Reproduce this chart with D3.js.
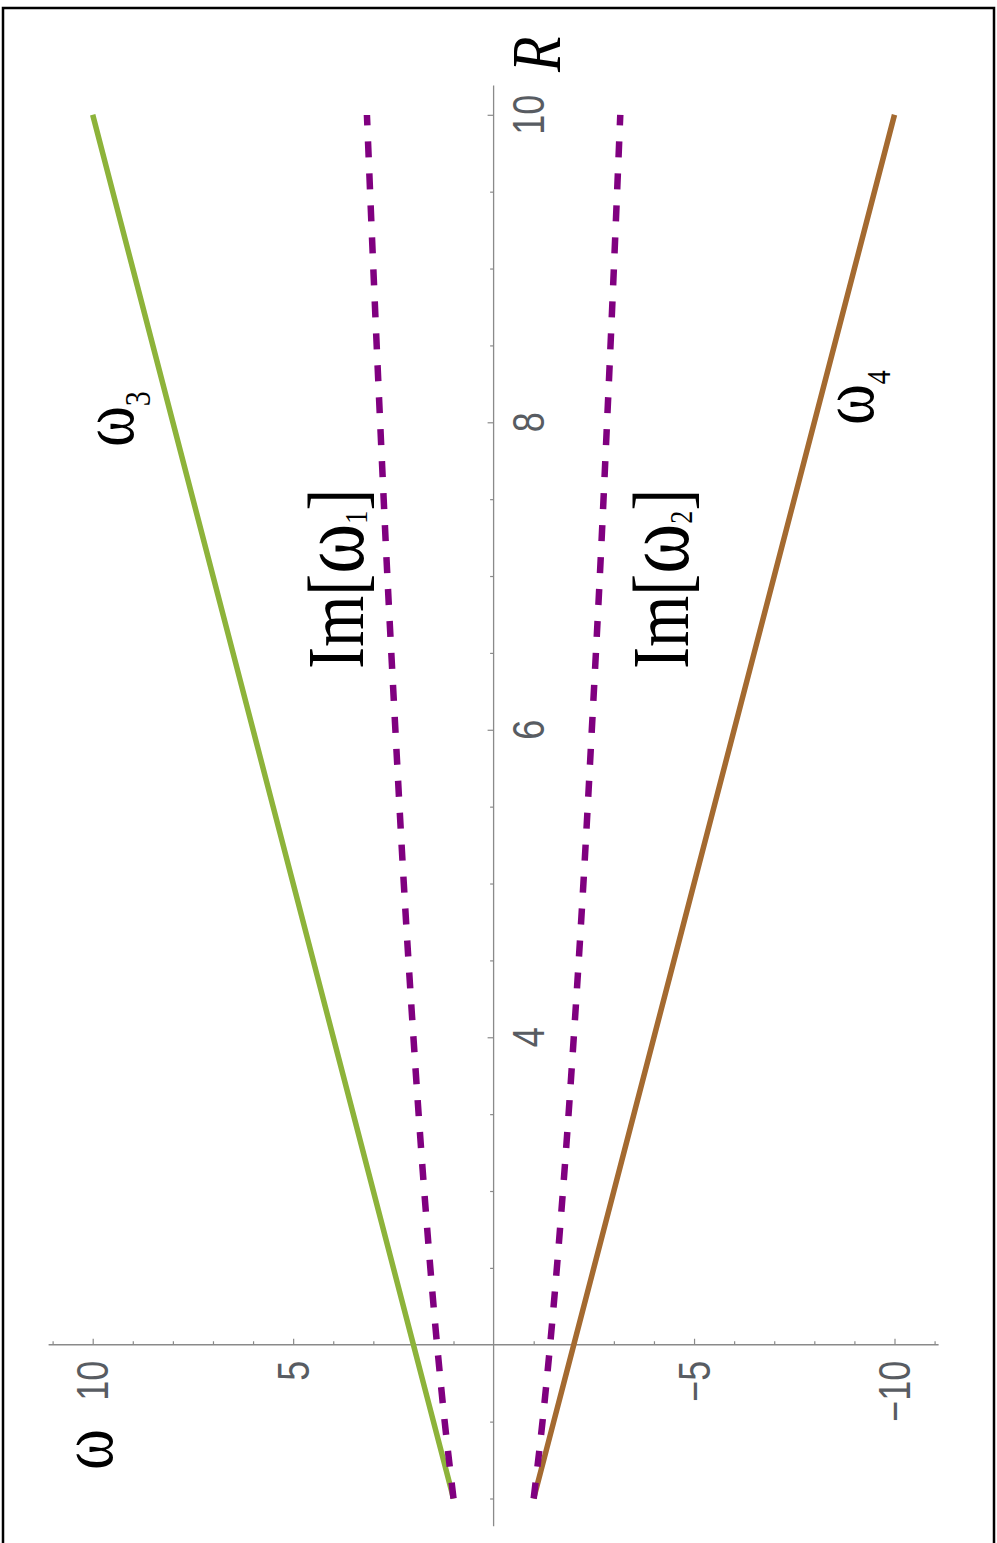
<!DOCTYPE html>
<html>
<head>
<meta charset="utf-8">
<script src="https://cdn.jsdelivr.net/npm/d3@7"></script>
<style>
  html, body { margin: 0; padding: 0; background: #fff; }
  svg { display: block; }
</style>
</head>
<body>
<svg id="chart" width="997" height="1543"></svg>
<script>
// Frequencies ω as functions of R (plotted with R running upward, ω to the left)
const rValues   = [1, 1.5, 2, 3, 4, 5, 6, 7, 8, 9, 10];
const omega3    = [1, 1.5, 2, 3, 4, 5, 6, 7, 8, 9, 10];
const omega4    = [-1, -1.5, -2, -3, -4, -5, -6, -7, -8, -9, -10];
const imOmega1  = [1.0, 1.22, 1.41, 1.73, 2.0, 2.24, 2.45, 2.65, 2.83, 3.0, 3.16];
const imOmega2  = [-1.0, -1.22, -1.41, -1.73, -2.0, -2.24, -2.45, -2.65, -2.83, -3.0, -3.16];

// Axis ticks
const omegaMajorTicks  = [-10, -5, 5, 10];
const omegaTickLabels  = ["\u221210", "\u22125", "5", "10"];
const omegaMinorTicks  = [-11, -9, -8, -7, -6, -4, -3, -2, -1, 1, 2, 3, 4, 6, 7, 8, 9, 11];
const rMajorTicks      = [4, 6, 8, 10];
const rTickLabels      = ["4", "6", "8", "10"];
const rMinorTicks      = [1, 1.5, 2.5, 3, 3.5, 4.5, 5, 5.5, 6.5, 7, 7.5, 8.5, 9, 9.5];

const svg = d3.select("#chart");

// R runs bottom -> top, ω runs right -> left
const y = d3.scaleLinear().domain([1, 10]).range([1498.5, 114.8]);
const x = d3.scaleLinear().domain([-10, 10]).range([894.5, 92.7]);

const K = 1.22; // horizontal stretch of the rotated lettering
const rot = (px, py) => `translate(${px},${py}) scale(${K},1) rotate(-90)`;

// outer frame
svg.append("rect")
  .attr("x", 3).attr("y", 8).attr("width", 991).attr("height", 1600)
  .attr("fill", "none").attr("stroke", "#000").attr("stroke-width", 2.5);

const axisColor = "#8a8a8a";
const omegaAxisY = y(2);

// axis lines
svg.append("line")
  .attr("x1", x(11.1)).attr("x2", x(-11.1))
  .attr("y1", omegaAxisY).attr("y2", omegaAxisY)
  .attr("stroke", axisColor).attr("stroke-width", 1.3);
svg.append("line")
  .attr("x1", x(0)).attr("x2", x(0))
  .attr("y1", y(0.82)).attr("y2", y(10.19))
  .attr("stroke", axisColor).attr("stroke-width", 1.3);

function styleAxis(g) {
  g.select(".domain").remove();
  g.selectAll("text").remove();
  g.selectAll("line").attr("stroke", axisColor).attr("stroke-width", 1.2);
}

// ω axis ticks (pointing up)
svg.append("g").attr("transform", `translate(0,${omegaAxisY})`)
  .call(d3.axisTop(x).tickValues(omegaMajorTicks).tickSize(6).tickSizeOuter(0))
  .call(styleAxis);
svg.append("g").attr("transform", `translate(0,${omegaAxisY})`)
  .call(d3.axisTop(x).tickValues(omegaMinorTicks).tickSize(3.5).tickSizeOuter(0))
  .call(styleAxis);

// R axis ticks (pointing left)
svg.append("g").attr("transform", `translate(${x(0)},0)`)
  .call(d3.axisLeft(y).tickValues(rMajorTicks).tickSize(6).tickSizeOuter(0))
  .call(styleAxis);
svg.append("g").attr("transform", `translate(${x(0)},0)`)
  .call(d3.axisLeft(y).tickValues(rMinorTicks).tickSize(3.5).tickSizeOuter(0))
  .call(styleAxis);

const tickFont = "'Liberation Sans', Arial, sans-serif";
const tickColor = "#585c62";

// ω tick labels (below the axis, reading upward)
svg.append("g").selectAll("text")
  .data(omegaMajorTicks)
  .join("text")
  .attr("transform", (d) => rot(x(d) + 15.5, omegaAxisY + 16))
  .attr("text-anchor", "end")
  .attr("font-family", tickFont).attr("font-size", 36)
  .attr("fill", tickColor)
  .text((d, i) => omegaTickLabels[i]);

// R tick labels (right of the axis)
svg.append("g").selectAll("text")
  .data(rMajorTicks)
  .join("text")
  .attr("transform", (d) => rot(x(0) + 50, y(d)))
  .attr("text-anchor", "middle")
  .attr("font-family", tickFont).attr("font-size", 36)
  .attr("fill", tickColor)
  .text((d, i) => rTickLabels[i]);

// curves
const line = (vals) => d3.line()
  .x((d, i) => x(vals[i]))
  .y((d) => y(d))
  .curve(d3.curveMonotoneY)(rValues);

svg.append("path").attr("d", line(omega3))
  .attr("fill", "none").attr("stroke", "#8db33a").attr("stroke-width", 5.5);
svg.append("path").attr("d", line(omega4))
  .attr("fill", "none").attr("stroke", "#a46a30").attr("stroke-width", 5.5);
[imOmega1, imOmega2].forEach((vals) => {
  svg.append("path").attr("d", line(vals))
    .attr("fill", "none").attr("stroke", "#800080").attr("stroke-width", 6.5)
    .attr("stroke-dasharray", "16,16");
});

// labels: each part is [text, font-size, baseline shift]
const serif = "'Liberation Serif', 'DejaVu Serif', serif";

function label(px, py, parts) {
  const t = svg.append("text")
    .attr("transform", rot(px, py))
    .attr("font-family", serif)
    .attr("fill", "#000");
  let prev = 0;
  parts.forEach(([txt, size, shift]) => {
    t.append("tspan")
      .attr("font-size", size)
      .attr("dy", shift - prev)
      .text(txt);
    prev = shift;
  });
  return t;
}

// axis names
svg.append("text")
  .attr("transform", rot(560, 72))
  .attr("font-family", serif).attr("font-size", 58).attr("font-style", "italic")
  .text("R");
label(112, 1470, [["\u03c9", 62, 0]]);

// curve names
label(133, 447, [["\u03c9", 62, 0], ["3", 30, 14]]);
label(873, 425, [["\u03c9", 62, 0], ["4", 28, 14]]);
label(363, 669, [["Im[", 66, 0], ["\u03c9", 76, 0], ["1", 26, 3], ["]", 66, 0]]);
label(688, 669, [["Im[", 66, 0], ["\u03c9", 76, 0], ["2", 26, 3], ["]", 66, 0]]);
</script>
</body>
</html>
